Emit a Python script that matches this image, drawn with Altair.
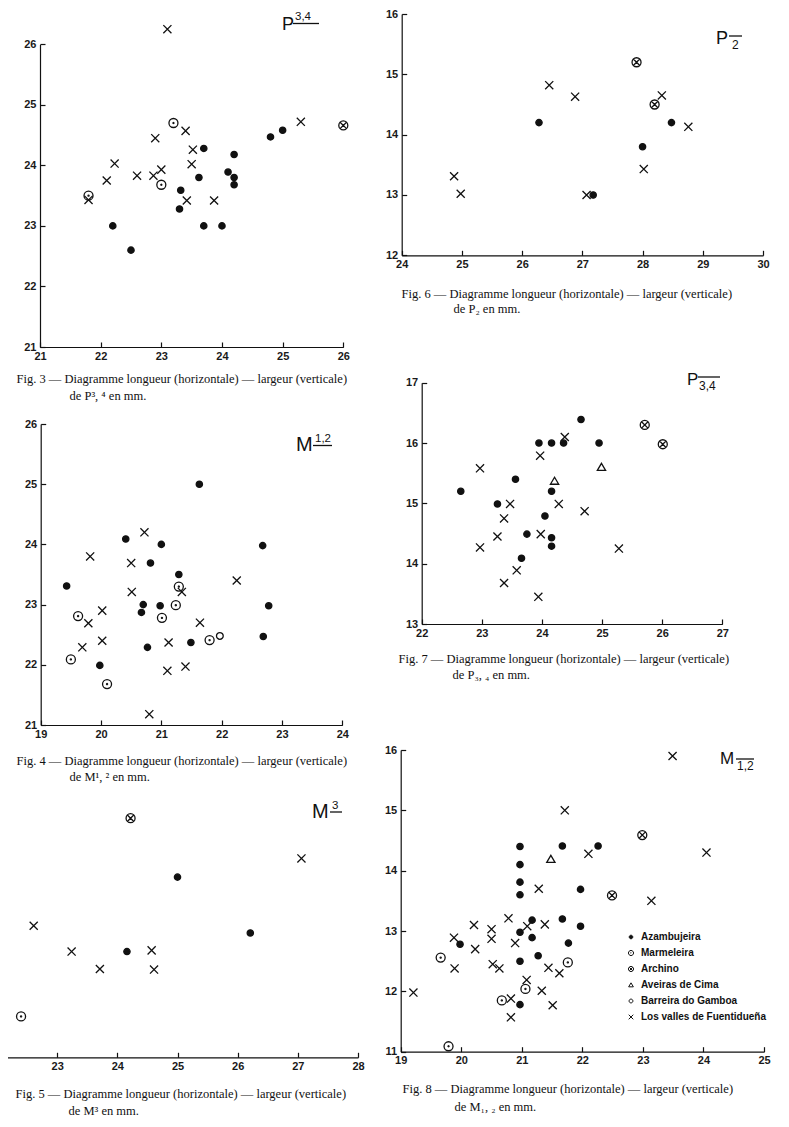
import altair as alt
import pandas as pd

SITES = ["Azambujeira", "Marmeleira", "Archino", "Aveiras de Cima",
         "Barreira do Gamboa", "Los valles de Fuentidueña"]
CODE = {"A": SITES[0], "M": SITES[1], "R": SITES[2], "V": SITES[3], "B": SITES[4], "F": SITES[5]}

# ---------------- Fig. 3  P3,4 ----------------
fig3_x = [23.1, 23.2, 23.4, 22.9, 25.3, 26.0, 24.8, 25.0, 23.52, 23.7, 24.2, 22.23, 23.5, 23.0, 22.1, 22.6,
          22.87, 23.0, 23.62, 24.1, 24.2, 24.2, 23.32, 23.3, 23.42, 23.87, 21.8, 21.8, 22.2, 22.5, 23.7, 24.0]
fig3_y = [26.25, 24.7, 24.57, 24.45, 24.72, 24.66, 24.47, 24.58, 24.26, 24.28, 24.18, 24.03, 24.02, 23.93, 23.75, 23.83,
          23.83, 23.68, 23.8, 23.89, 23.8, 23.68, 23.59, 23.28, 23.42, 23.42, 23.5, 23.43, 23.0, 22.6, 23.0, 23.0]
fig3_s = ["F", "M", "F", "F", "F", "R", "A", "A", "F", "A", "A", "F", "F", "F", "F", "F",
          "F", "M", "A", "A", "A", "A", "A", "A", "F", "F", "M", "F", "A", "A", "A", "A"]

# ---------------- Fig. 6  P2 ----------------
fig6_x = [27.9, 26.45, 26.88, 28.2, 28.32, 26.28, 28.48, 28.76, 28.0, 28.02, 24.87, 24.98, 27.07, 27.18]
fig6_y = [15.2, 14.82, 14.63, 14.5, 14.65, 14.2, 14.2, 14.13, 13.8, 13.43, 13.31, 13.02, 13.0, 13.0]
fig6_s = ["R", "F", "F", "R", "F", "A", "A", "F", "A", "F", "F", "F", "F", "A"]

# ---------------- Fig. 4  M1,2 ----------------
fig4_x = [21.63, 20.72, 20.41, 21.0, 22.68, 19.82, 20.5, 20.82, 21.29, 22.25, 19.43, 21.29, 21.34, 20.51, 20.7, 20.98,
          21.24, 22.78, 20.67, 20.02, 19.62, 21.01, 19.79, 21.64, 22.69, 21.97, 21.8, 21.49, 21.12, 20.02, 20.77, 19.69,
          19.5, 19.98, 21.4, 21.1, 20.1, 20.8]
fig4_y = [25.0, 24.2, 24.09, 24.0, 23.98, 23.8, 23.69, 23.69, 23.5, 23.4, 23.31, 23.3, 23.21, 23.21, 23.0, 22.98,
          22.99, 22.98, 22.87, 22.9, 22.81, 22.78, 22.69, 22.7, 22.47, 22.48, 22.41, 22.37, 22.37, 22.4, 22.29, 22.29,
          22.09, 21.99, 21.97, 21.9, 21.68, 21.18]
fig4_s = ["A", "F", "A", "A", "A", "F", "F", "A", "A", "F", "A", "M", "F", "F", "A", "A",
          "M", "A", "A", "F", "M", "M", "F", "F", "A", "B", "M", "A", "F", "F", "A", "F",
          "M", "A", "F", "F", "M", "F"]

# ---------------- Fig. 7  P3,4 ----------------
fig7_x = [24.65, 25.71, 24.38, 23.95, 24.16, 24.36, 24.95, 26.01, 23.97, 22.97, 24.99, 23.56, 24.21, 22.65, 24.16, 23.26,
          23.47, 24.28, 24.71, 24.05, 23.37, 23.75, 23.98, 23.26, 24.16, 24.16, 22.97, 25.28, 23.66, 23.58, 23.37, 23.94]
fig7_y = [16.39, 16.3, 16.1, 16.0, 16.0, 16.0, 16.0, 15.98, 15.79, 15.58, 15.6, 15.4, 15.37, 15.2, 15.2, 14.99,
          14.99, 14.99, 14.87, 14.79, 14.75, 14.49, 14.49, 14.45, 14.43, 14.29, 14.27, 14.25, 14.09, 13.89, 13.68, 13.45]
fig7_s = ["A", "R", "F", "A", "A", "A", "A", "R", "F", "F", "V", "A", "V", "A", "A", "A",
          "F", "F", "F", "A", "F", "A", "F", "F", "A", "A", "F", "F", "A", "F", "F", "F"]

# ---------------- Fig. 5  M3 ----------------
fig5_x = [24.22, 27.06, 25.0, 22.61, 26.21, 23.24, 24.16, 24.57, 23.71, 24.61, 22.4]
fig5_y = [20.98, 20.31, 20.0, 19.19, 19.07, 18.76, 18.76, 18.78, 18.47, 18.46, 17.68]
fig5_s = ["R", "F", "A", "F", "A", "F", "A", "F", "F", "F", "M"]

# ---------------- Fig. 8  M1,2 ----------------
fig8_x = [23.49, 21.71, 22.99, 20.97, 21.67, 22.26, 22.1, 24.05, 21.48, 20.97, 20.97, 21.28, 21.97, 20.97, 22.49, 23.14,
          20.78, 21.67, 21.17, 20.21, 21.09, 21.38, 21.97, 20.5, 20.97, 19.88, 20.5, 21.17, 19.98, 20.89, 21.77, 20.23,
          21.27, 19.66, 20.97, 21.76, 20.52, 20.63, 19.89, 21.44, 21.62, 21.08, 21.06, 21.33, 19.21, 20.67, 20.82, 20.97,
          21.51, 20.82, 19.79]
fig8_y = [15.9, 15.0, 14.59, 14.4, 14.41, 14.41, 14.28, 14.3, 14.19, 14.1, 13.81, 13.7, 13.69, 13.6, 13.59, 13.5,
          13.21, 13.2, 13.18, 13.1, 13.08, 13.11, 13.08, 13.03, 12.98, 12.89, 12.87, 12.89, 12.78, 12.8, 12.8, 12.7,
          12.59, 12.56, 12.5, 12.48, 12.45, 12.38, 12.38, 12.39, 12.3, 12.19, 12.04, 12.01, 11.98, 11.85, 11.88, 11.78,
          11.77, 11.57, 11.09]
fig8_s = ["F", "F", "R", "A", "A", "A", "F", "F", "V", "A", "A", "F", "A", "A", "R", "F",
          "F", "A", "A", "F", "F", "F", "A", "F", "A", "F", "F", "A", "A", "F", "A", "F",
          "A", "M", "A", "M", "F", "F", "F", "F", "F", "F", "M", "F", "F", "M", "F", "A",
          "F", "F", "M"]

SHAPES = [
    "M-0.7,0A0.7,0.7 0 1,0 0.7,0A0.7,0.7 0 1,0 -0.7,0Z",
    "M-1,0A1,1 0 1,0 1,0A1,1 0 1,0 -1,0Z M-0.12,0A0.12,0.12 0 1,0 0.12,0A0.12,0.12 0 1,0 -0.12,0Z",
    "M-1,0A1,1 0 1,0 1,0A1,1 0 1,0 -1,0Z M-0.66,-0.66L0.66,0.66M-0.66,0.66L0.66,-0.66",
    "M0,-0.85L0.92,0.72L-0.92,0.72Z",
    "M-0.75,0A0.75,0.75 0 1,0 0.75,0A0.75,0.75 0 1,0 -0.75,0Z",
    "M-0.9,-0.9L0.9,0.9M-0.9,0.9L0.9,-0.9",
]
INK = "#111111"
FILLS = [INK, "transparent", "transparent", "transparent", "transparent", "transparent"]
STROKES = [INK] * 6

W, H = 773, 1111

LEGEND = alt.Legend(orient="none", legendX=618, legendY=924, title=None, symbolSize=26,
                    symbolStrokeWidth=1.0, labelFont="Liberation Sans",
                    labelFontSize=10, labelFontWeight="bold", labelColor=INK, rowPadding=6,
                    labelOffset=5, padding=0)


def panel(xs, ys, codes, xdom, xrng, ydom, yrng, xvals, yvals, cap1, c1x, c1y, cap2, c2x, c2y,
          xlabels=True, ylabels=True):
    df = pd.DataFrame({"lx": xs, "ly": ys, "site": [CODE[c] for c in codes]})
    ax_y = yrng[0]
    ax_x = xrng[0]
    return alt.Chart(df).mark_point(size=81, strokeWidth=1.3, opacity=1, clip=False).encode(
        x=alt.X("lx:Q", scale=alt.Scale(domain=xdom, range=xrng, nice=False, zero=False),
                axis=alt.Axis(orient="top", offset=-ax_y, values=xvals, tickSize=5, labelPadding=-8,
                              labels=xlabels, labelBaseline="top", labelFlush=False, labelOverlap=False,
                              title=cap1, titleX=c1x, titleY=c1y - ax_y, titleAlign="left",
                              titleAnchor="start", titleBaseline="alphabetic", titleAngle=0)),
        y=alt.Y("ly:Q", scale=alt.Scale(domain=ydom, range=yrng, nice=False, zero=False),
                axis=alt.Axis(orient="right", offset=ax_x - W, values=yvals, tickSize=5, labelPadding=-9,
                              labels=ylabels, labelAlign="right", labelBaseline="middle", labelFlush=False,
                              labelOverlap=False, title=cap2, titleX=c2x - ax_x, titleY=c2y,
                              titleAlign="left", titleAnchor="start", titleBaseline="alphabetic",
                              titleAngle=0)),
        shape=alt.Shape("site:N", scale=alt.Scale(domain=SITES, range=SHAPES), legend=LEGEND),
        fill=alt.Fill("site:N", scale=alt.Scale(domain=SITES, range=FILLS), legend=LEGEND),
        stroke=alt.Stroke("site:N", scale=alt.Scale(domain=SITES, range=STROKES), legend=LEGEND),
    )


ONE = pd.DataFrame({"k": [0]})


def txt(s, x, y, size):
    return alt.Chart(ONE).mark_text(text=s, align="left", baseline="alphabetic", font="Liberation Sans",
                                    fontSize=size, color=INK).encode(x=alt.value(x), y=alt.value(y))


def bar(x1, x2, y):
    return alt.Chart(ONE).mark_rule(color=INK, strokeWidth=1.3).encode(
        x=alt.value(x1), x2=alt.value(x2), y=alt.value(y))


L1 = "Fig. {} — Diagramme longueur (horizontale) — largeur (verticale)"

p3 = panel(fig3_x, fig3_y, fig3_s, [21, 26], [32, 335.3], [21, 26], [339, 36.3],
           [21, 22, 23, 24, 25, 26], [21, 22, 23, 24, 25, 26],
           L1.format(3), 8, 374, "de P³, ⁴ en mm.", 61, 391)
p6 = panel(fig6_x, fig6_y, fig6_s, [24, 30], [393.7, 755], [12, 16], [247.3, 6],
           [24, 25, 26, 27, 28, 29, 30], [12, 13, 14, 15, 16],
           L1.format(6), 393, 289, "de P₂ en mm.", 445, 304)
p4 = panel(fig4_x, fig4_y, fig4_s, [19, 24], [32.7, 334.3], [21, 26], [717, 416],
           [19, 20, 21, 22, 23, 24], [21, 22, 23, 24, 25, 26],
           L1.format(4), 8, 756, "de M¹, ² en mm.", 61, 772)
p7 = panel(fig7_x, fig7_y, fig7_s, [22, 27], [413.7, 714.3], [13, 17], [616, 374.7],
           [22, 23, 24, 25, 26, 27], [13, 14, 15, 16, 17],
           L1.format(7), 390, 654, "de P₃, ₄ en mm.", 444, 670)
p5 = panel(fig5_x, fig5_y, fig5_s, [22, 28], [-11, 350], [17, 21], [1049.3, 809],
           [23, 24, 25, 26, 27, 28], [17, 18, 19, 20, 21],
           L1.format(5), 7, 1089, "de M³ en mm.", 60, 1106, ylabels=False)
p8 = panel(fig8_x, fig8_y, fig8_s, [19, 25], [392.7, 756], [11, 16], [1043.7, 742],
           [19, 20, 21, 22, 23, 24, 25], [11, 12, 13, 14, 15, 16],
           L1.format(8), 394, 1084, "de M₁, ₂ en mm.", 446, 1102)

labels = [
    # P 3,4 (upper)
    txt("P", 274, 21.5, 18), txt("3,4", 287, 12, 11.5), bar(285, 311, 15.5),
    # P 2 (lower)
    txt("P", 708, 35.5, 18), bar(721, 734, 28), txt("2", 724, 41, 12),
    # M 1,2 (upper)
    txt("M", 288, 443, 20), txt("1,2", 307, 434, 11.5), bar(305, 324, 437.5),
    # P 3,4 (lower)
    txt("P", 679, 377, 17), bar(690, 712, 369), txt("3,4", 691, 382, 12),
    # M 3 (upper)
    txt("M", 304, 809.5, 20), txt("3", 324, 801, 11.5), bar(322, 334, 804),
    # M 1,2 (lower)
    txt("M", 712, 756, 17), bar(728, 746, 751), txt("1,2", 729, 762, 12),
]

chart = alt.layer(p3, p6, p4, p7, p5, p8, *labels).resolve_scale(
    x="independent", y="independent"
).properties(
    width=W, height=H, padding=0, autosize=alt.AutoSizeParams(type="none"), background="white"
).configure_view(stroke=None).configure_axis(
    grid=False, domainColor=INK, domainWidth=1.2, tickColor=INK, tickWidth=1.2,
    labelFont="Liberation Sans", labelFontWeight="bold", labelFontSize=11, labelColor="#1a1a1a",
    titleFont="Liberation Serif", titleFontSize=12.5, titleFontWeight="normal", titleColor=INK,
)

chart.save("out.html", embed_options={"renderer": "svg", "actions": False})
